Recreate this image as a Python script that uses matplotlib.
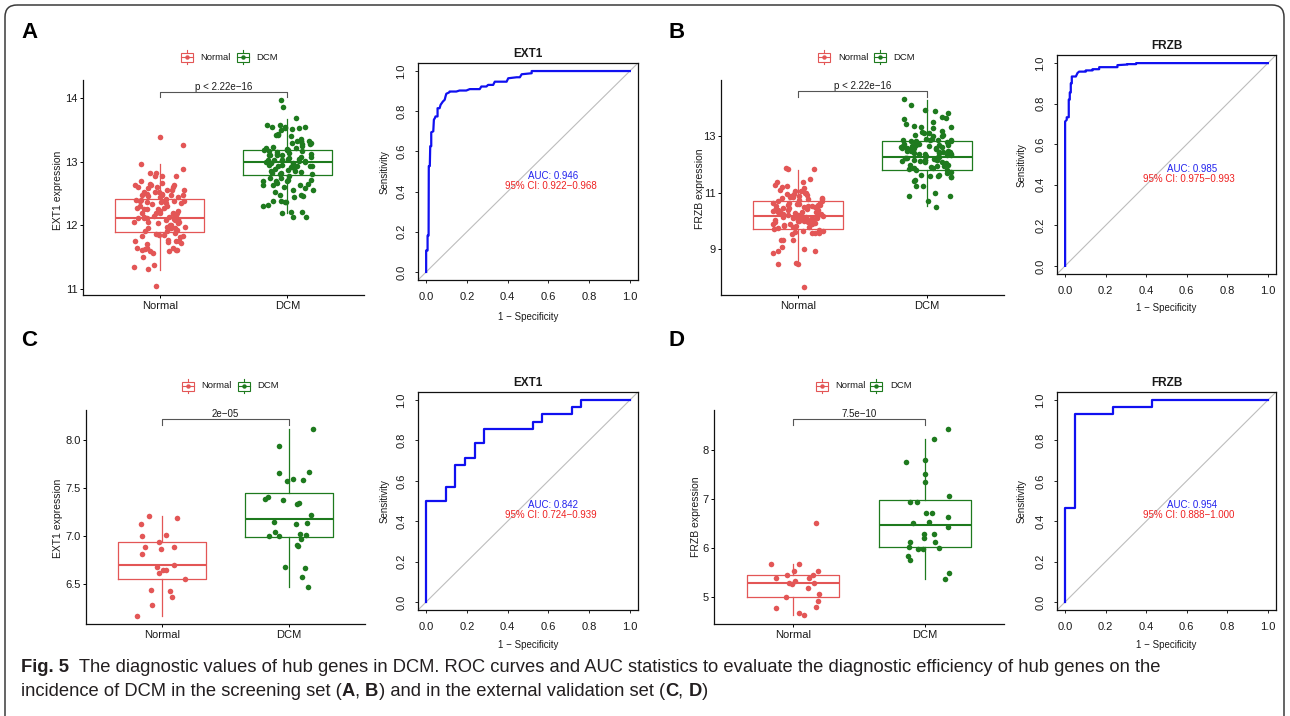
import numpy as np
import matplotlib
matplotlib.use("Agg")
import matplotlib.pyplot as plt
from matplotlib import font_manager as fm
from matplotlib.patches import FancyBboxPatch, Rectangle

plt.rcParams['font.family'] = ['Liberation Sans', 'DejaVu Sans']

# ---------------------------------------------------------------- data
groups = ["Normal", "DCM"]

# Panel A (EXT1, screening set)
A_normal = [13.39, 13.26, 12.96, 12.89, 12.82, 12.83, 12.77, 12.78, 12.77, 12.64, 12.61,
            12.66, 12.64, 12.63, 12.65, 12.61, 12.69, 12.53, 12.53, 12.50, 12.56, 12.58,
            12.52, 12.56, 12.47, 12.48, 12.48, 12.46, 12.47, 12.39, 12.45, 12.38, 12.35,
            12.38, 12.38, 12.35, 12.40, 12.36, 12.26, 12.27, 12.30, 12.23, 12.28, 12.25,
            12.19, 12.19, 12.22, 12.19, 12.19, 12.17, 12.13, 12.10, 12.12, 12.09, 12.13,
            12.12, 12.10, 12.04, 12.05, 12.04, 12.05, 12.06, 11.91, 11.96, 11.93, 11.96,
            11.91, 11.98, 11.96, 11.84, 11.83, 11.85, 11.81, 11.86, 11.85, 11.75, 11.77,
            11.72, 11.75, 11.76, 11.74, 11.64, 11.64, 11.63, 11.62, 11.64, 11.62, 11.62,
            11.57, 11.59, 11.59, 11.50, 11.38, 11.35, 11.31, 11.04, 12.30, 12.42, 12.15,
            12.00, 12.55, 12.20, 12.44, 12.08, 11.88, 12.33, 12.50, 12.25, 11.98, 12.12,
            12.36, 12.60, 11.70, 12.18, 12.01, 12.40]
A_dcm = [13.97, 13.86, 13.68, 13.53, 13.51, 13.54, 13.53, 13.58, 13.55, 13.50, 13.57,
         13.55, 13.42, 13.42, 13.44, 13.40, 13.29, 13.32, 13.27, 13.32, 13.29, 13.33,
         13.32, 13.19, 13.21, 13.20, 13.23, 13.16, 13.19, 13.17, 13.11, 13.08, 13.14,
         13.10, 13.08, 13.11, 13.12, 13.01, 13.03, 13.01, 12.98, 13.02, 13.03, 12.99,
         13.03, 12.93, 12.90, 12.93, 12.87, 12.93, 12.95, 12.94, 12.82, 12.80, 12.84,
         12.81, 12.86, 12.82, 12.74, 12.72, 12.69, 12.70, 12.72, 12.70, 12.64, 12.61,
         12.64, 12.65, 12.63, 12.66, 12.56, 12.53, 12.58, 12.55, 12.46, 12.44, 12.48,
         12.47, 12.31, 12.37, 12.39, 12.37, 12.32, 12.38, 12.21, 12.19, 12.21, 12.13,
         12.13, 13.05, 12.96, 13.15, 13.25, 12.88, 13.00, 13.12, 12.78, 13.35, 13.06,
         12.98, 13.18, 12.85, 13.22, 12.92, 13.10, 13.28, 12.75, 13.04, 12.95]
A_q1 = [11.90, 12.79]
A_med = [12.12, 13.00]
A_q3 = [12.41, 13.19]
A_wlo = [11.30, 12.19]
A_whi = [12.97, 13.67]

# Panel B (FRZB, screening set)
B_normal = [11.88, 11.86, 11.83, 11.38, 11.37, 11.49, 11.20, 11.29, 11.25, 11.00, 11.05,
            11.10, 11.05, 10.93, 10.96, 10.99, 10.80, 10.77, 10.85, 10.81, 10.85, 10.75,
            10.57, 10.54, 10.63, 10.57, 10.60, 10.51, 10.39, 10.33, 10.45, 10.37, 10.42,
            10.33, 10.15, 10.10, 10.18, 10.13, 10.10, 10.15, 10.21, 9.98, 9.92, 9.98, 9.94,
            9.89, 9.98, 9.80, 9.74, 9.70, 9.77, 9.82, 9.56, 9.58, 9.54, 9.62, 9.65, 9.58,
            9.30, 9.32, 9.32, 9.06, 8.99, 8.93, 8.87, 8.93, 8.45, 8.49, 8.45, 7.65, 10.20,
            10.25, 10.05, 10.30, 10.48, 10.60, 10.70, 9.85, 10.00, 10.12, 10.40, 10.55,
            10.65, 10.08, 9.90, 10.22, 10.35, 10.50, 10.72, 9.95, 10.18, 10.28, 10.45,
            10.02, 9.78, 10.88, 10.90, 10.62, 10.32, 10.15, 9.60, 10.40, 11.15, 10.95,
            9.68, 10.78, 10.52, 10.24, 10.10, 9.88]
B_dcm = [14.32, 14.11, 13.96, 13.90, 13.85, 13.67, 13.70, 13.61, 13.35, 13.31, 13.43,
         13.37, 13.51, 13.35, 13.13, 13.19, 13.07, 13.13, 13.01, 13.15, 12.89, 12.92,
         12.83, 12.89, 12.80, 12.87, 12.89, 12.83, 12.65, 12.68, 12.60, 12.63, 12.68,
         12.60, 12.65, 12.42, 12.36, 12.44, 12.48, 12.39, 12.42, 12.18, 12.20, 12.12,
         12.15, 12.24, 12.18, 11.92, 11.88, 11.94, 11.82, 11.88, 11.85, 11.64, 11.58,
         11.56, 11.61, 11.64, 11.56, 11.44, 11.40, 11.23, 11.25, 10.99, 10.90, 10.90,
         10.71, 10.49, 12.30, 12.50, 12.70, 12.05, 12.25, 12.55, 12.75, 11.95, 12.35,
         12.60, 12.10, 12.45, 12.00, 12.80, 12.28, 12.52, 12.22, 12.40, 12.65, 12.15,
         11.80, 12.90, 12.33, 12.58, 12.08, 12.72, 12.48, 12.18, 11.98, 12.62, 13.00,
         12.85, 11.75, 12.38, 12.55, 12.26, 13.05, 12.12, 11.70, 12.45]
B_q1 = [9.71, 11.79]
B_med = [10.18, 12.27]
B_q3 = [10.71, 12.83]
B_wlo = [8.45, 10.52]
B_whi = [11.80, 14.30]

# Panel C (EXT1, validation set)
C_normal = [7.12, 7.21, 7.19, 7.01, 7.00, 6.94, 6.86, 6.89, 6.88, 6.81, 6.68, 6.65, 6.61,
            6.65, 6.70, 6.55, 6.44, 6.43, 6.36, 6.28, 6.17]
C_dcm = [8.11, 7.94, 7.66, 7.67, 7.59, 7.57, 7.58, 7.39, 7.34, 7.38, 7.41, 7.33, 7.22,
         7.15, 7.13, 7.00, 6.97, 7.02, 7.04, 7.01, 6.91, 6.90, 6.67, 6.68, 6.57, 6.47,
         7.00, 7.14]
C_q1 = [6.55, 6.99]
C_med = [6.70, 7.18]
C_q3 = [6.94, 7.45]
C_wlo = [6.17, 6.47]
C_whi = [7.21, 8.11]

# Panel D (FRZB, validation set)
D_normal = [6.51, 5.53, 5.53, 5.67, 5.67, 5.44, 5.39, 5.38, 5.44, 5.32, 5.28, 5.25, 5.28,
            5.17, 5.06, 5.00, 4.92, 4.78, 4.76, 4.66, 4.62]
D_dcm = [8.43, 8.22, 7.76, 7.79, 7.50, 7.34, 7.07, 6.94, 6.94, 6.72, 6.72, 6.64, 6.52,
         6.50, 6.43, 6.29, 6.29, 6.21, 6.11, 6.11, 6.00, 6.02, 5.97, 5.98, 5.83, 5.74,
         5.48, 5.36]
D_q1 = [5.00, 6.02]
D_med = [5.27, 6.47]
D_q3 = [5.44, 6.98]
D_wlo = [4.62, 5.36]
D_whi = [5.67, 8.22]

p_labels = ["p < 2.22e\u221216", "p < 2.22e\u221216", "2e\u221205", "7.5e\u221210"]

# ROC curves (1 - specificity, sensitivity)
rocA_fpr = [0, 0, 0.007, 0.007, 0.012, 0.013, 0.018, 0.020, 0.025, 0.025, 0.035, 0.038,
            0.043, 0.046, 0.056, 0.056, 0.066, 0.071, 0.082, 0.091, 0.095, 0.099, 0.112,
            0.115, 0.148, 0.164, 0.197, 0.214, 0.263, 0.271, 0.296, 0.304, 0.329, 0.337,
            0.395, 0.403, 0.444, 0.460, 0.469, 0.518, 0.518, 1.0]
rocA_tpr = [0, 0.107, 0.107, 0.181, 0.181, 0.527, 0.527, 0.626, 0.626, 0.695, 0.700, 0.758,
            0.766, 0.774, 0.774, 0.815, 0.815, 0.832, 0.848, 0.857, 0.873, 0.887, 0.893,
            0.898, 0.898, 0.903, 0.903, 0.910, 0.910, 0.923, 0.923, 0.931, 0.931, 0.947,
            0.947, 0.964, 0.969, 0.969, 0.984, 0.989, 1.0, 1.0]
rocB_fpr = [0, 0, 0.008, 0.008, 0.018, 0.018, 0.023, 0.023, 0.028, 0.028, 0.033, 0.033,
            0.053, 0.061, 0.069, 0.102, 0.102, 0.135, 0.135, 0.168, 0.168, 0.258, 0.258,
            0.307, 0.307, 0.350, 0.350, 1.0]
rocB_tpr = [0, 0.712, 0.720, 0.733, 0.733, 0.820, 0.820, 0.855, 0.855, 0.900, 0.900, 0.934,
            0.934, 0.951, 0.958, 0.958, 0.964, 0.964, 0.970, 0.970, 0.980, 0.980, 0.990,
            0.993, 0.995, 0.995, 1.0, 1.0]
rocC_fpr = [0, 0, 0.095, 0.095, 0.143, 0.143, 0.190, 0.190, 0.238, 0.238, 0.286, 0.286,
            0.524, 0.524, 0.571, 0.571, 0.714, 0.714, 0.762, 0.762, 1.0]
rocC_tpr = [0, 0.500, 0.500, 0.571, 0.571, 0.679, 0.679, 0.714, 0.714, 0.786, 0.786, 0.857,
            0.857, 0.893, 0.893, 0.929, 0.929, 0.964, 0.964, 1.0, 1.0]
rocD_fpr = [0, 0, 0.048, 0.048, 0.238, 0.238, 0.429, 0.429, 1.0]
rocD_tpr = [0, 0.464, 0.464, 0.929, 0.929, 0.964, 0.964, 1.0, 1.0]

auc_labels = ["AUC: 0.946", "AUC: 0.985", "AUC: 0.842", "AUC: 0.954"]
ci_labels = ["95% CI: 0.922\u22120.968", "95% CI: 0.975\u22120.993",
             "95% CI: 0.724\u22120.939", "95% CI: 0.888\u22121.000"]
roc_titles = ["EXT1", "FRZB", "EXT1", "FRZB"]

# ---------------------------------------------------------------- figure
W, H = 1290, 716
fig = plt.figure(figsize=(W / 100, H / 100), dpi=100)
RED = '#E35656'
GREEN = '#1E7A1E'
TXT = '#1a1a1a'


def add_ax(l, t, r, b):
    return fig.add_axes([l / W, 1 - b / H, (r - l) / W, (b - t) / H])


ov = fig.add_axes([0, 0, 1, 1])
ov.set_xlim(0, W)
ov.set_ylim(H, 0)
ov.axis('off')

# outer frame
ov.add_patch(FancyBboxPatch((5, 5), 1279, 760, boxstyle="round,pad=0,rounding_size=12",
                            fill=False, ec='#3a3a3a', lw=1.1, clip_on=False))


def box_panel(rect, normal, dcm, q1, med, q3, wlo, whi, ylim, yticks, ytlabels,
              br_top, br_bot, plabel, seed):
    ax = add_ax(*rect)
    for i, c in enumerate([RED, GREEN]):
        st = dict(q1=q1[i], med=med[i], q3=q3[i], whislo=wlo[i], whishi=whi[i],
                  fliers=[], label=groups[i])
        ax.bxp([st], positions=[i + 1], widths=0.7, showfliers=False, showcaps=False,
               boxprops=dict(color=c, lw=0.9), whiskerprops=dict(color=c, lw=0.9),
               medianprops=dict(color=c, lw=1.5))
    rng = np.random.default_rng(seed)
    for i, (vals, c) in enumerate([(normal, RED), (dcm, GREEN)]):
        xs = i + 1 + rng.uniform(-0.2, 0.2, len(vals))
        ax.scatter(xs, vals, s=16, color=c, lw=0, zorder=3)
    ax.plot([1, 1, 2, 2], [br_bot, br_top, br_top, br_bot], color='#555555', lw=0.8)
    ax.text(1.5, br_top, plabel, ha='center', va='bottom', fontsize=7, color=TXT)
    ax.set_xlim(0.4, 2.6)
    ax.set_ylim(*ylim)
    ax.set_xticks([1, 2])
    ax.set_xticklabels(groups)
    ax.set_yticks(yticks)
    ax.set_yticklabels(ytlabels)
    for s in ['top', 'right']:
        ax.spines[s].set_visible(False)
    for s in ['left', 'bottom']:
        ax.spines[s].set_linewidth(0.9)
        ax.spines[s].set_color('#111111')
    ax.tick_params(labelsize=8, length=2.5, width=0.7, pad=1.5, labelcolor=TXT)
    ax.set_facecolor('none')
    return ax


def roc_panel(rect, fpr, tpr, title, auc_t, ci_t):
    ax = add_ax(*rect)
    ax.plot([-0.04, 1.04], [-0.04, 1.04], color='#BDBDBD', lw=0.8)
    ax.plot(fpr, tpr, color='#1010F0', lw=1.6)
    ax.set_xlim(-0.04, 1.04)
    ax.set_ylim(-0.04, 1.04)
    ticks = [0, 0.2, 0.4, 0.6, 0.8, 1.0]
    tl = ['0.0', '0.2', '0.4', '0.6', '0.8', '1.0']
    ax.set_xticks(ticks)
    ax.set_xticklabels(tl)
    ax.set_yticks(ticks)
    ax.set_yticklabels(tl, rotation=90, va='center')
    ax.tick_params(labelsize=8, length=2.5, width=0.6, pad=6, labelcolor=TXT)
    for s in ax.spines.values():
        s.set_linewidth(0.9)
        s.set_color('#111111')
    ax.set_title(title, fontsize=8.5, fontweight='bold', pad=4, color=TXT)
    ax.text(0.624, 0.48, auc_t, color='#2222EE', ha='center', va='center', fontsize=7)
    ax.text(0.61, 0.43, ci_t, color='#EE2222', ha='center', va='center', fontsize=7)
    return ax


box_panel((83, 80, 364, 295), A_normal, A_dcm, A_q1, A_med, A_q3, A_wlo, A_whi,
          (10.906, 14.283), [11, 12, 13, 14], ['11', '12', '13', '14'],
          14.094, 14.016, p_labels[0], 1)
box_panel((721, 80, 1004, 295), B_normal, B_dcm, B_q1, B_med, B_q3, B_wlo, B_whi,
          (7.36, 15.01), [9, 11, 13], ['9', '11', '13'],
          14.63, 14.42, p_labels[1], 2)
box_panel((86, 410, 365, 624), C_normal, C_dcm, C_q1, C_med, C_q3, C_wlo, C_whi,
          (6.083, 8.3125), [6.5, 7.0, 7.5, 8.0], ['6.5', '7.0', '7.5', '8.0'],
          8.216, 8.156, p_labels[2], 3)
box_panel((714, 410, 1004, 624), D_normal, D_dcm, D_q1, D_med, D_q3, D_wlo, D_whi,
          (4.44, 8.82), [5, 6, 7, 8], ['5', '6', '7', '8'],
          8.63, 8.51, p_labels[3], 4)

roc_panel((418, 63, 638, 280), rocA_fpr, rocA_tpr, roc_titles[0], auc_labels[0], ci_labels[0])
roc_panel((1057, 55, 1276, 274), rocB_fpr, rocB_tpr, roc_titles[1], auc_labels[1], ci_labels[1])
roc_panel((418, 392, 638, 610), rocC_fpr, rocC_tpr, roc_titles[2], auc_labels[2], ci_labels[2])
roc_panel((1057, 392, 1276, 610), rocD_fpr, rocD_tpr, roc_titles[3], auc_labels[3], ci_labels[3])

# axis titles (figure pixel positions)
for x, y, t in [(58, 190, "EXT1 expression"), (700, 189, "FRZB expression"),
                (58, 518, "EXT1 expression"), (696, 517, "FRZB expression")]:
    ov.text(x, y, t, rotation=90, ha='center', va='center', fontsize=7.5, color=TXT)
for x, y in [(385, 172), (1022, 165), (385, 501), (1022, 501)]:
    ov.text(x, y, "Sensitivity", rotation=90, ha='center', va='center', fontsize=7, color=TXT)
for x, y in [(528, 317), (1166, 308), (528, 645), (1166, 645)]:
    ov.text(x, y, "1 \u2212 Specificity", ha='center', va='center', fontsize=7, color=TXT)

# panel letters
for x, y, t in [(29, 33, "A"), (677, 33, "B"), (29, 340, "C"), (677, 340, "D")]:
    ov.text(x, y, t, ha='center', va='center', fontsize=16, fontweight='bold', color='black')


# legends
def legend_icon(cx, cy, c):
    ov.add_patch(Rectangle((cx - 6, cy - 4.5), 12, 9, fill=False, ec=c, lw=0.8))
    ov.plot([cx - 6, cx + 6], [cy, cy], color=c, lw=0.8)
    ov.plot([cx, cx], [cy - 7, cy - 4.5], color=c, lw=0.8)
    ov.plot([cx, cx], [cy + 4.5, cy + 7], color=c, lw=0.8)
    ov.plot([cx], [cy], 'o', color=c, ms=3.2, mew=0)


for rx, tx, gx, gtx, cy in [(187, 200, 243, 256, 57), (824, 838, 880, 893, 57),
                            (188, 201, 244, 257, 386), (822, 835, 876, 890, 386)]:
    legend_icon(rx, cy, RED)
    ov.text(tx, cy, groups[0], ha='left', va='center', fontsize=6.8, color=TXT)
    legend_icon(gx, cy, GREEN)
    ov.text(gtx, cy, groups[1], ha='left', va='center', fontsize=6.8, color=TXT)

# caption
names = {f.name for f in fm.fontManager.ttflist}
cap_family = 'Liberation Sans Narrow' if 'Liberation Sans Narrow' in names else 'Liberation Sans'
renderer = fig.canvas.get_renderer()
line1 = [("Fig. 5", 'bold'),
         ("  The diagnostic values of hub genes in DCM. ROC curves and AUC statistics to "
          "evaluate the diagnostic efficiency of hub genes on the", 'normal')]
line2 = [("incidence of DCM in the screening set (", 'normal'), ("A", 'bold'), (", ", 'normal'),
         ("B", 'bold'), (") and in the external validation set (", 'normal'), ("C", 'bold'),
         (", ", 'normal'), ("D", 'bold'), (")", 'normal')]


def draw_runs(x, y, runs, fs):
    arts = []
    for txt, wt in runs:
        t = ov.text(x, y, txt, fontsize=fs, fontweight=wt, ha='left', va='center',
                    color='#231F20', family=cap_family)
        arts.append(t)
        x += t.get_window_extent(renderer).width
    return x, arts


end, arts = draw_runs(21, 668, line1, 10)
scale = (1163 - 21) / (end - 21)
for a in arts:
    a.remove()
fs = 10 * scale
draw_runs(21, 668, line1, fs)
draw_runs(21, 692, line2, fs)

fig.savefig("out.png", dpi=100)
